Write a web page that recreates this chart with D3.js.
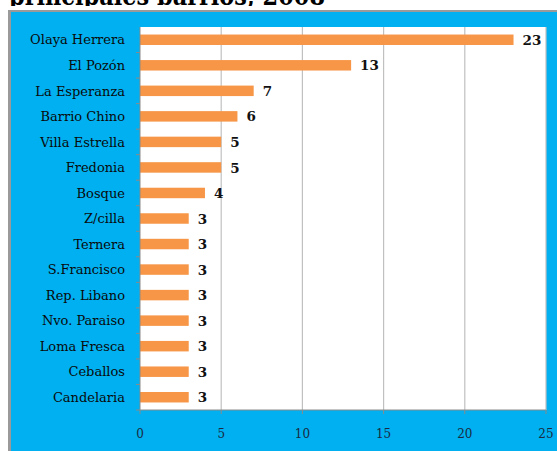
<!DOCTYPE html>
<html>
<head>
<meta charset="utf-8">
<script src="https://cdn.jsdelivr.net/npm/d3@7"></script>
<style>
  body { margin: 0; background: #fff; }
  svg { display: block; }
</style>
</head>
<body>
<svg width="557" height="451"></svg>
<script>
// data
const barrios = ['Olaya Herrera', 'El Pozón', 'La Esperanza', 'Barrio Chino', 'Villa Estrella',
  'Fredonia', 'Bosque', 'Z/cilla', 'Ternera', 'S.Francisco', 'Rep. Libano', 'Nvo. Paraiso',
  'Loma Fresca', 'Ceballos', 'Candelaria'];
const casos = [23, 13, 7, 6, 5, 5, 4, 3, 3, 3, 3, 3, 3, 3, 3];
const xTicks = [0, 5, 10, 15, 20, 25];
const titulo = 'principales barrios, 2008';

(function () {
  const svg = d3.select('svg');
  const width = Number(svg.attr('width'));
  const height = Number(svg.attr('height'));
  const serif = '"DejaVu Serif", serif';

  // title, cut off by the top of the picture
  svg.append('clipPath').attr('id', 'cut')
    .append('rect').attr('x', 0).attr('y', 0).attr('width', width).attr('height', 6);
  svg.append('text')
    .attr('clip-path', 'url(#cut)')
    .attr('x', 9).attr('y', 5)
    .attr('font-family', '"DejaVu Serif", serif')
    .attr('font-weight', 'bold')
    .attr('font-size', 26)
    .attr('textLength', 316)
    .attr('lengthAdjust', 'spacingAndGlyphs')
    .attr('fill', '#000')
    .text(titulo);

  // blue chart area with gray border
  svg.append('rect').attr('x', 8).attr('y', 10).attr('width', width - 8).attr('height', height - 10)
    .attr('fill', '#9a9a9a');
  svg.append('rect').attr('x', 11).attr('y', 12).attr('width', width - 11).attr('height', height - 12)
    .attr('fill', '#00b0f0');

  const m = {left: 140, right: 546, top: 27, bottom: 410};
  svg.append('rect').attr('x', m.left).attr('y', m.top)
    .attr('width', m.right - m.left).attr('height', m.bottom - m.top)
    .attr('fill', '#fff');

  const x = d3.scaleLinear().domain([0, 25]).range([m.left, m.right]);
  const y = d3.scaleBand().domain(barrios).range([m.top, m.bottom]).paddingInner(0.59).paddingOuter(0.295);
  const yb = d3.scaleBand().domain(barrios).range([m.top, m.bottom]);

  // gridlines
  svg.append('g').selectAll('line').data(xTicks.slice(1)).join('line')
    .attr('x1', d => x(d)).attr('x2', d => x(d))
    .attr('y1', m.top).attr('y2', m.bottom)
    .attr('stroke', '#c0c0c0').attr('stroke-width', 1.2);

  // bars
  const data = barrios.map((b, i) => ({b, v: casos[i]}));
  svg.append('g').selectAll('rect').data(data).join('rect')
    .attr('x', x(0))
    .attr('y', d => y(d.b))
    .attr('width', d => x(d.v) - x(0))
    .attr('height', y.bandwidth())
    .attr('fill', '#f79646');

  // value labels
  svg.append('g').selectAll('text').data(data).join('text')
    .attr('x', d => x(d.v) + 9)
    .attr('y', d => y(d.b) + y.bandwidth() / 2)
    .attr('dy', '0.38em')
    .attr('font-family', serif)
    .attr('font-weight', 'bold')
    .attr('font-size', 13.5)
    .attr('fill', '#111')
    .text(d => d.v);

  // left axis
  const yAxis = svg.append('g').attr('transform', `translate(${m.left},0)`);
  yAxis.append('line').attr('x1', 0).attr('x2', 0).attr('y1', m.top).attr('y2', m.bottom)
    .attr('stroke', '#8a8a8a');
  yAxis.selectAll('line.tk').data(barrios).join('line')
    .attr('class', 'tk')
    .attr('x1', -4).attr('x2', 0)
    .attr('y1', d => yb(d) + yb.bandwidth())
    .attr('y2', d => yb(d) + yb.bandwidth())
    .attr('stroke', '#8a8a8a');
  yAxis.selectAll('text').data(barrios).join('text')
    .attr('x', -15)
    .attr('y', d => yb(d) + yb.bandwidth() / 2)
    .attr('dy', '0.36em')
    .attr('text-anchor', 'end')
    .attr('font-family', serif)
    .attr('font-size', 13)
    .attr('fill', '#0a0a0a')
    .text(d => d);

  // bottom axis
  const xAxis = svg.append('g').attr('transform', `translate(0,${m.bottom})`);
  xAxis.append('line').attr('x1', m.left).attr('x2', m.right).attr('stroke', '#8a8a8a');
  xAxis.selectAll('line.tk').data(xTicks).join('line')
    .attr('class', 'tk')
    .attr('x1', d => x(d)).attr('x2', d => x(d))
    .attr('y1', 0).attr('y2', 4)
    .attr('stroke', '#8a8a8a');
  xAxis.selectAll('text').data(xTicks).join('text')
    .attr('x', d => x(d))
    .attr('y', 28)
    .attr('text-anchor', 'middle')
    .attr('font-family', serif)
    .attr('font-size', 12)
    .attr('fill', '#1a2a40')
    .text(d => d);
})();
</script>
</body>
</html>
